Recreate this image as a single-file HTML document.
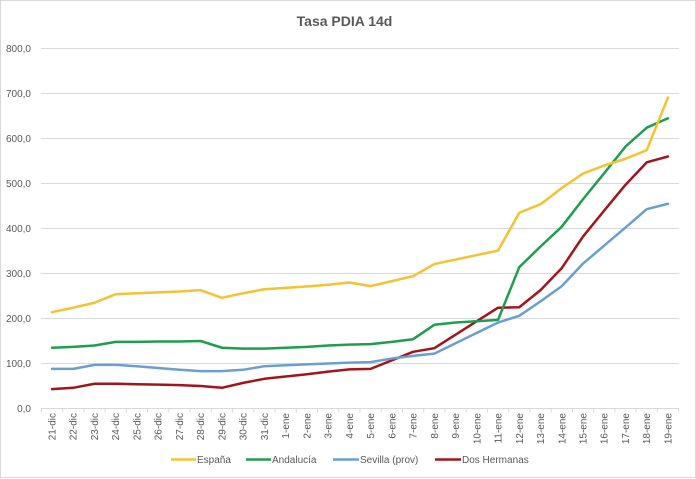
<!DOCTYPE html>
<html><head><meta charset="utf-8"><style>
html,body{margin:0;padding:0;background:#fff;}
svg{display:block;}
text{font-family:"Liberation Sans",sans-serif;fill:#595959;}
</style></head><body>
<svg width="696" height="479" viewBox="0 0 696 479" xmlns="http://www.w3.org/2000/svg">
<rect x="0" y="0" width="696" height="479" fill="#fff"/>
<rect x="0.5" y="0.5" width="695" height="477" fill="none" stroke="#d9d9d9" stroke-width="1"/>
<text x="344.5" y="26" font-size="14" font-weight="bold" text-anchor="middle">Tasa PDIA 14d</text>
<g stroke="#d9d9d9" stroke-width="1">
<line x1="41" y1="48.5" x2="679" y2="48.5"/>
<line x1="41" y1="93.5" x2="679" y2="93.5"/>
<line x1="41" y1="138.5" x2="679" y2="138.5"/>
<line x1="41" y1="183.5" x2="679" y2="183.5"/>
<line x1="41" y1="228.5" x2="679" y2="228.5"/>
<line x1="41" y1="273.5" x2="679" y2="273.5"/>
<line x1="41" y1="318.5" x2="679" y2="318.5"/>
<line x1="41" y1="363.5" x2="679" y2="363.5"/>
<line x1="41" y1="408.5" x2="679" y2="408.5"/>
</g>
<g font-size="10" text-anchor="end">
<text x="31" y="52">800,0</text>
<text x="31" y="97">700,0</text>
<text x="31" y="142">600,0</text>
<text x="31" y="187">500,0</text>
<text x="31" y="232">400,0</text>
<text x="31" y="277">300,0</text>
<text x="31" y="322">200,0</text>
<text x="31" y="367">100,0</text>
<text x="31" y="412">0,0</text>
</g>
<g transform="translate(41.4,408.5)" stroke="#d9d9d9" stroke-width="1">
<path d="M0,0v4M21.24,0v4M42.48,0v4M63.72,0v4M84.96,0v4M106.2,0v4M127.44,0v4M148.68,0v4M169.92,0v4M191.16,0v4M212.4,0v4M233.64,0v4M254.88,0v4M276.12,0v4M297.36,0v4M318.6,0v4M339.84,0v4M361.08,0v4M382.32,0v4M403.56,0v4M424.8,0v4M446.04,0v4M467.28,0v4M488.52,0v4M509.76,0v4M531,0v4M552.24,0v4M573.48,0v4M594.72,0v4M615.96,0v4M637.2,0v4"/>
</g>
<g font-size="10" text-anchor="end">
<text transform="translate(55.5,413) rotate(-90)">21-dic</text>
<text transform="translate(76.74,413) rotate(-90)">22-dic</text>
<text transform="translate(97.98,413) rotate(-90)">23-dic</text>
<text transform="translate(119.22,413) rotate(-90)">24-dic</text>
<text transform="translate(140.46,413) rotate(-90)">25-dic</text>
<text transform="translate(161.7,413) rotate(-90)">26-dic</text>
<text transform="translate(182.94,413) rotate(-90)">27-dic</text>
<text transform="translate(204.18,413) rotate(-90)">28-dic</text>
<text transform="translate(225.42,413) rotate(-90)">29-dic</text>
<text transform="translate(246.66,413) rotate(-90)">30-dic</text>
<text transform="translate(267.9,413) rotate(-90)">31-dic</text>
<text transform="translate(289.14,413) rotate(-90)">1-ene</text>
<text transform="translate(310.38,413) rotate(-90)">2-ene</text>
<text transform="translate(331.62,413) rotate(-90)">3-ene</text>
<text transform="translate(352.86,413) rotate(-90)">4-ene</text>
<text transform="translate(374.1,413) rotate(-90)">5-ene</text>
<text transform="translate(395.34,413) rotate(-90)">6-ene</text>
<text transform="translate(416.58,413) rotate(-90)">7-ene</text>
<text transform="translate(437.82,413) rotate(-90)">8-ene</text>
<text transform="translate(459.06,413) rotate(-90)">9-ene</text>
<text transform="translate(480.3,413) rotate(-90)">10-ene</text>
<text transform="translate(501.54,413) rotate(-90)">11-ene</text>
<text transform="translate(522.78,413) rotate(-90)">12-ene</text>
<text transform="translate(544.02,413) rotate(-90)">13-ene</text>
<text transform="translate(565.26,413) rotate(-90)">14-ene</text>
<text transform="translate(586.5,413) rotate(-90)">15-ene</text>
<text transform="translate(607.74,413) rotate(-90)">16-ene</text>
<text transform="translate(628.98,413) rotate(-90)">17-ene</text>
<text transform="translate(650.22,413) rotate(-90)">18-ene</text>
<text transform="translate(671.46,413) rotate(-90)">19-ene</text>
</g>
<g transform="translate(52,408.5) scale(21.24,-0.45)" fill="none" stroke-width="2.5" stroke-linejoin="round" stroke-linecap="round">
<polyline vector-effect="non-scaling-stroke" stroke="#a3141c" points="0,43 1,46 2,55 3,55 4,54 5,53 6,52 7,50 8,46 9,57 10,66 11,71 12,76 13,82 14,87 15,88 16,107 17,126 18,134 19,164 20,194 21,224 22,225 23,263 24,312 25,382 26,440 27,497 28,547 29,560"/>
<polyline vector-effect="non-scaling-stroke" stroke="#6a9fd0" points="0,88 1,88 2,97 3,97 4,94 5,90 6,86 7,83 8,83 9,86 10,94 11,96 12,98 13,100 14,102 15,103 16,111 17,117 18,122 19,145 20,168 21,191 22,206 23,238 24,272 25,322 26,362 27,402 28,443 29,455"/>
<polyline vector-effect="non-scaling-stroke" stroke="#1e9e4e" points="0,135 1,137 2,140 3,148 4,148 5,149 6,149 7,150 8,135 9,133 10,133 11,135 12,137 13,140 14,142 15,143 16,148 17,154 18,186 19,191 20,194 21,197 22,314 23,360 24,404 25,465 26,523 27,582 28,624 29,645"/>
<polyline vector-effect="non-scaling-stroke" stroke="#f5c231" points="0,214 1,224 2,235 3,254 4,256 5,258 6,260 7,263 8,246 9,256 10,265 11,268 12,271 13,275 14,280 15,272 16,283 17,294 18,321 19,331 20,341 21,351 22,435 23,454 24,490 25,522 26,540 27,555 28,574 29,691"/>
</g>
<g stroke-width="2.5">
<line x1="171" y1="459.5" x2="196" y2="459.5" stroke="#f5c231"/>
<line x1="246" y1="459.5" x2="271" y2="459.5" stroke="#1e9e4e"/>
<line x1="333" y1="459.5" x2="359" y2="459.5" stroke="#6a9fd0"/>
<line x1="435" y1="459.5" x2="461" y2="459.5" stroke="#a3141c"/>
</g>
<g font-size="10">
<text x="197" y="463">España</text>
<text x="272" y="463">Andalucía</text>
<text x="360" y="463">Sevilla (prov)</text>
<text x="462" y="463">Dos Hermanas</text>
</g>
</svg>
</body></html>
